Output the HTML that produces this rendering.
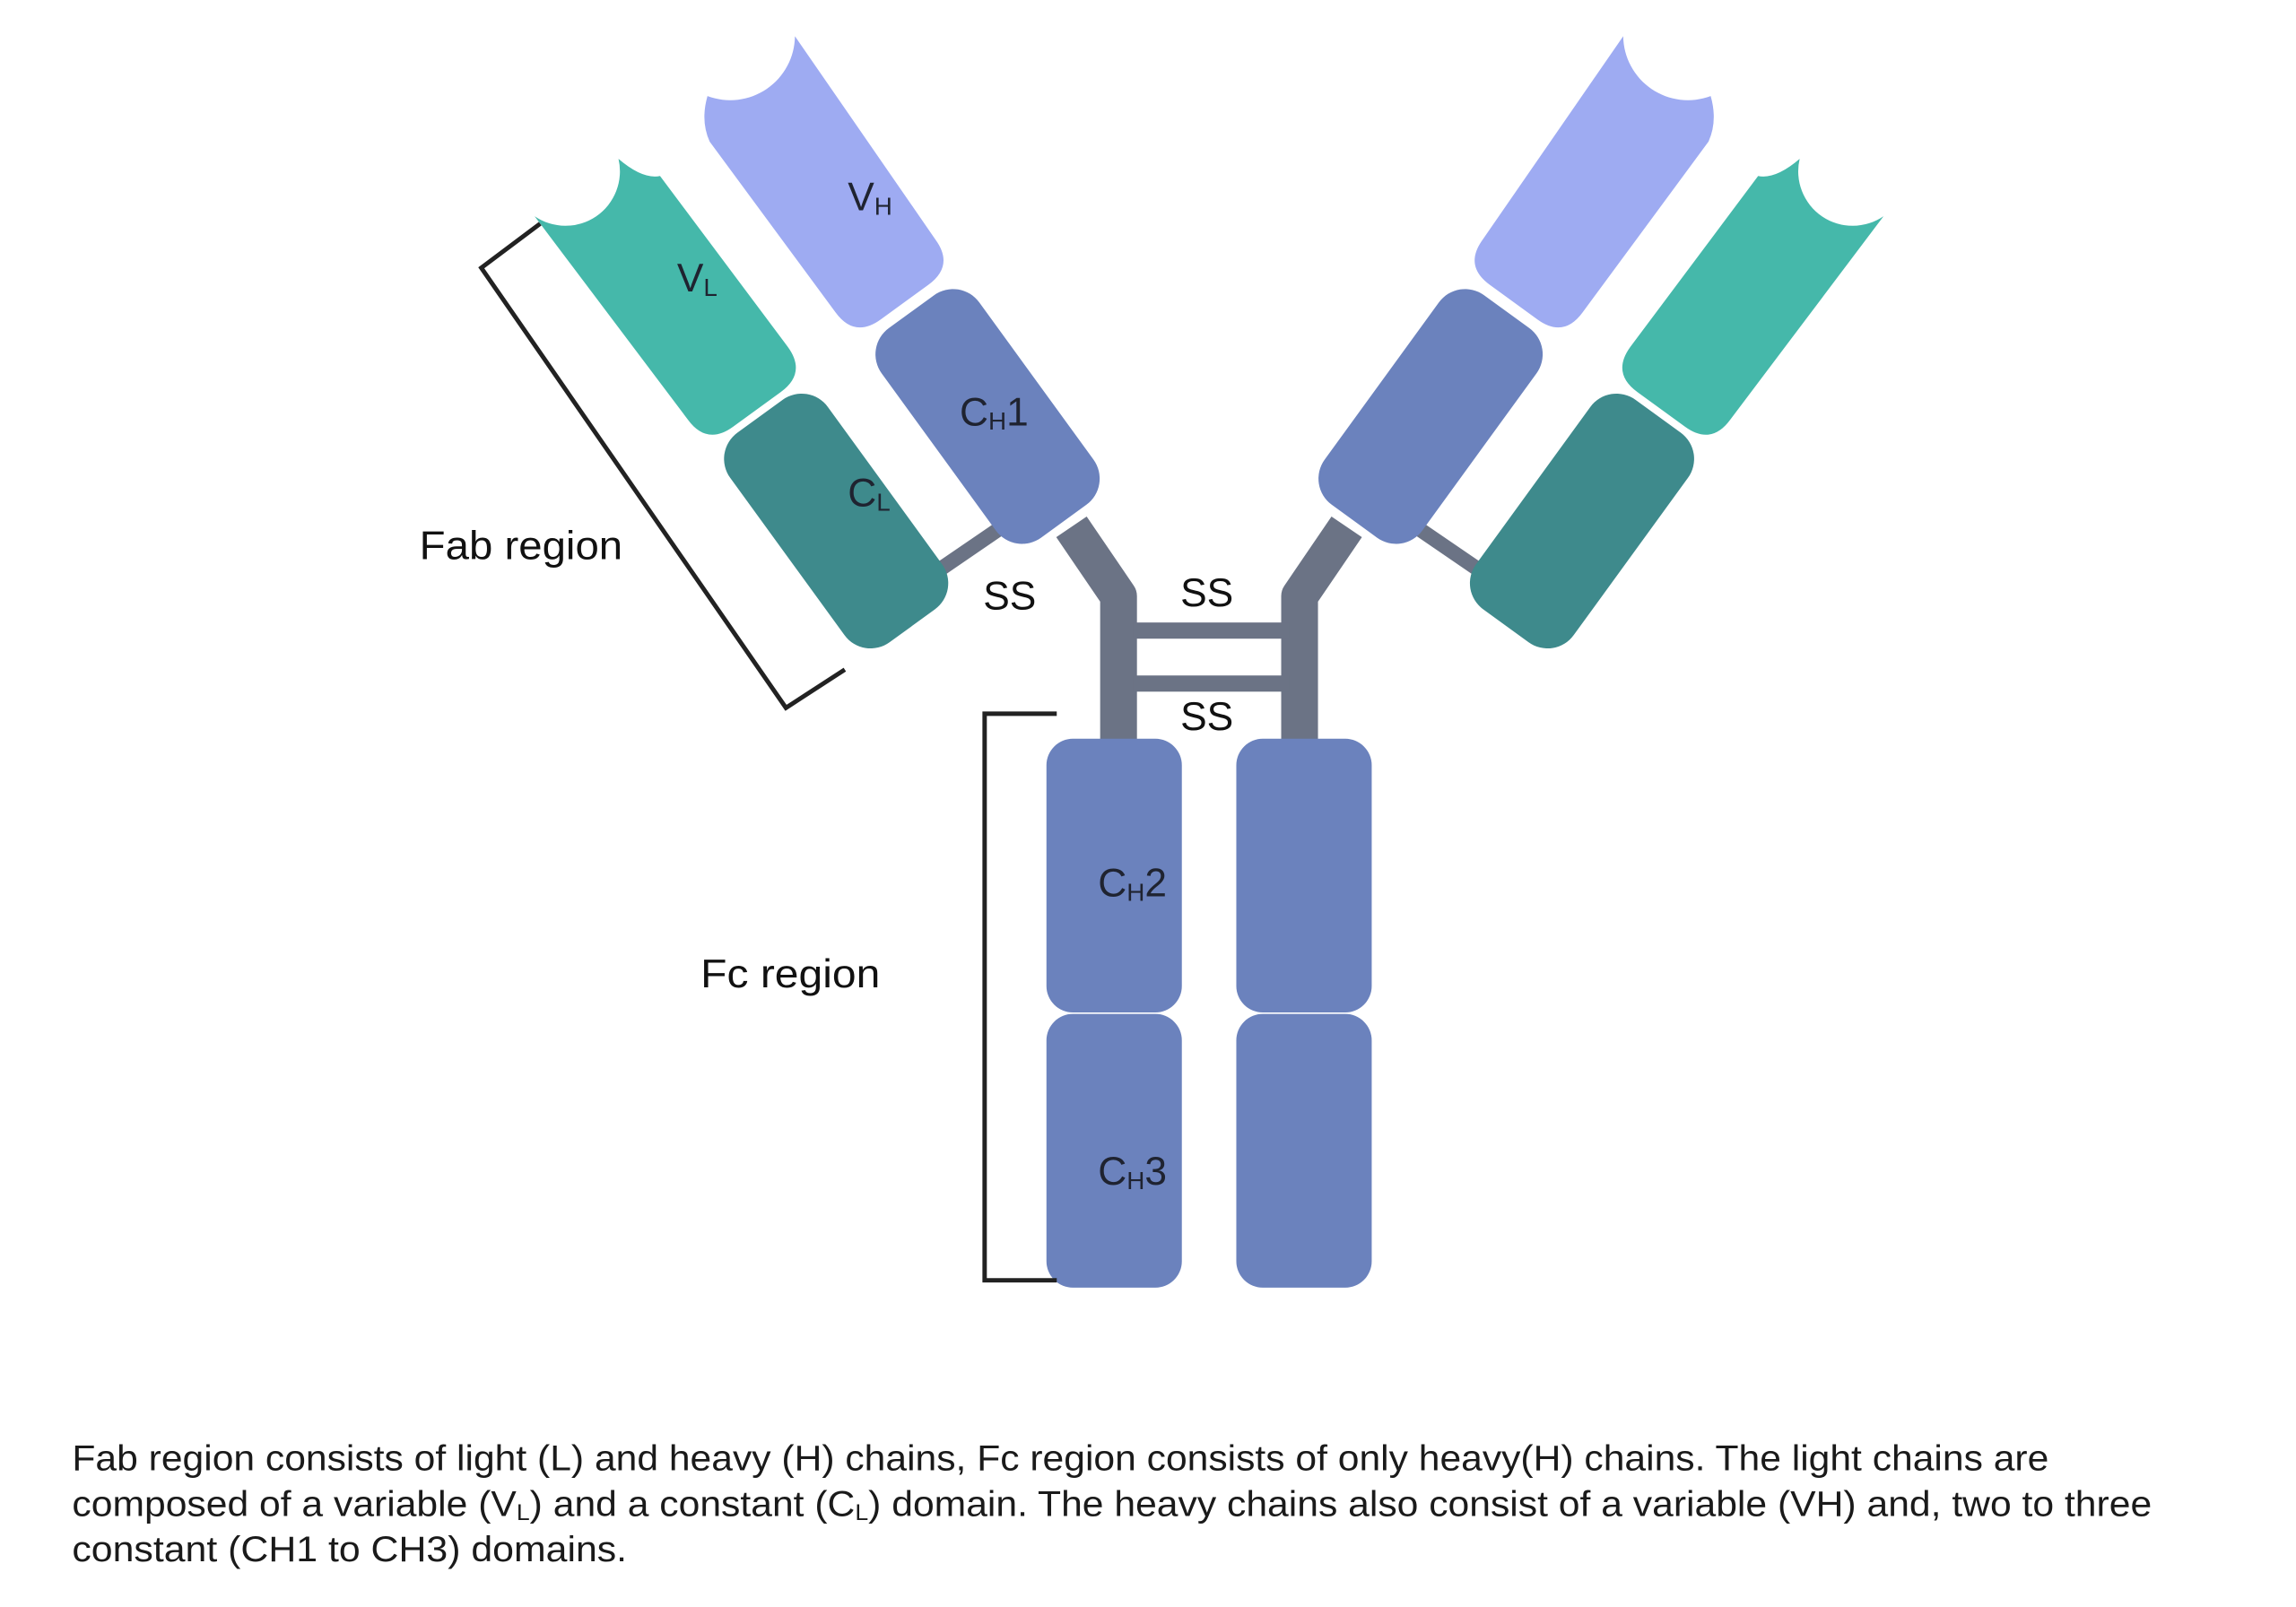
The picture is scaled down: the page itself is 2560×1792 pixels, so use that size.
<!DOCTYPE html>
<html><head><meta charset="utf-8"><style>html,body{margin:0;padding:0;background:#fff}svg{display:block}</style></head>
<body>
<svg width="2560" height="1792" viewBox="0 0 1560 1092" xmlns="http://www.w3.org/2000/svg" font-family="'Liberation Sans', sans-serif">
<rect width="1560" height="1092" fill="#fff"/>
<defs>
<g id="arm">
  <path d="M728 358 L760 405 L760 505" fill="none" stroke="#6B7385" stroke-width="25" stroke-linejoin="round"/>
  <line x1="640" y1="386" x2="678" y2="360" stroke="#6B7385" stroke-width="10"/>
  <g transform="translate(671,283) rotate(-36)">
    <rect x="-41" y="-88" width="82" height="176" rx="22" fill="#6B82BD"/>
    <path d="M-43 -262 Q-40 -277 -26 -288 A44 44 0 0 0 46 -286 L42 -118 Q42 -96 20 -96 L-20 -96 Q-42 -96 -42 -118 Z" fill="#9EABF2"/>
    <rect x="-166" y="-91" width="82" height="176" rx="22" fill="#3E8A8C"/>
    <path d="M-169 -291 A37 37 0 0 0 -100 -289 Q-95 -268 -84 -263 L-82 -118 Q-82 -96 -104 -96 L-144 -96 Q-166 -96 -166 -118 Z" fill="#45B8AA"/>
  </g>
</g>
</defs>
<use href="#arm"/>
<g transform="translate(1643,0) scale(-1,1)"><use href="#arm"/></g>
<rect x="770" y="423" width="106" height="11" fill="#6B7385"/>
<rect x="770" y="459" width="106" height="11" fill="#6B7385"/>
<rect x="711" y="502" width="92" height="186" rx="18" fill="#6B82BD"/>
<rect x="711" y="689" width="92" height="186" rx="18" fill="#6B82BD"/>
<rect x="840" y="502" width="92" height="186" rx="18" fill="#6B82BD"/>
<rect x="840" y="689" width="92" height="186" rx="18" fill="#6B82BD"/>
<polyline points="367,152 327,182 534,481 574,455" fill="none" stroke="#222" stroke-width="3"/>
<polyline points="718,485 669,485 669,870 718,870" fill="none" stroke="#222" stroke-width="3"/>
<g fill="#1f2330" font-size="27">
<text x="576" y="143">V<tspan font-size="17" dy="3">H</tspan></text>
<text x="460" y="198">V<tspan font-size="17" dy="3">L</tspan></text>
<text x="652" y="289">C<tspan font-size="17" dy="3">H</tspan><tspan dy="-3">1</tspan></text>
<text x="576" y="344">C<tspan font-size="17" dy="3">L</tspan></text>
<text x="746" y="609">C<tspan font-size="17" dy="3">H</tspan><tspan dy="-3">2</tspan></text>
<text x="746" y="805">C<tspan font-size="17" dy="3">H</tspan><tspan dy="-3">3</tspan></text>
</g>
<g fill="#111" font-size="27">
<text x="668" y="414">SS</text>
<text x="802" y="412">SS</text>
<text x="802" y="496">SS</text>
<text x="285" y="380" textLength="138" lengthAdjust="spacingAndGlyphs">Fab region</text>
<text x="476" y="671" textLength="122" lengthAdjust="spacingAndGlyphs">Fc region</text>
</g>
<g fill="#1a1a1a" font-size="24">
<text x="49" y="999" textLength="1343" lengthAdjust="spacingAndGlyphs">Fab region consists of light (L) and heavy (H) chains, Fc region consists of only heavy(H) chains. The light chains are</text>
<text x="49" y="1030" textLength="1413" lengthAdjust="spacingAndGlyphs">composed of a variable (V<tspan font-size="15" dy="3">L</tspan><tspan dy="-3">) and a constant (C</tspan><tspan font-size="15" dy="3">L</tspan><tspan dy="-3">) domain. The heavy chains also consist of a variable (VH) and, two to three</tspan></text>
<text x="49" y="1061" textLength="377" lengthAdjust="spacingAndGlyphs">constant (CH1 to CH3) domains.</text>
</g>
</svg>
</body></html>
